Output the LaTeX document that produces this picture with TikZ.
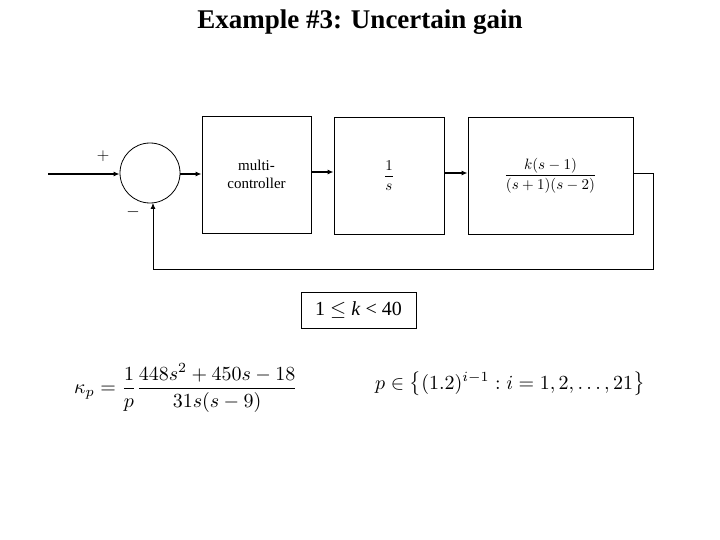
\documentclass[tikz,border=0pt]{standalone}
\usepackage{amsmath}
\usepackage{fontspec}
\setmainfont{Liberation Serif}
\usetikzlibrary{arrows.meta}
\begin{document}
\begin{tikzpicture}[x=1pt,y=-1pt,
  blk/.style={draw,line width=0.8pt,minimum width=#1,minimum height=117pt,inner sep=0pt},
  conn/.style={line width=1.2pt,-{Latex[length=6pt,width=5pt]}},
  fb/.style={line width=0.8pt,-{Latex[length=6pt,width=5pt]}}]
\useasboundingbox (0,0) rectangle (720,540);
\node (title) at (360,22) {\fontsize{27}{30}\selectfont\bfseries Example \#3: Uncertain gain};
\coordinate (in) at (48,174);
\node[circle,draw,line width=0.8pt,minimum size=60pt,inner sep=0pt] (sum) at (150,173) {};
\node (plus) at (103,156) {\fontsize{18}{20}\selectfont $+$};
\node (minus) at (133,212) {\fontsize{18}{20}\selectfont $-$};
\node[blk=109pt] (b1) at (256.5,174.5) {\parbox{80pt}{\centering\fontsize{15}{18}\selectfont multi-\\controller}};
\node[blk=110pt] (b2) at (389,175.5) {};
\node[scale=1.5] (b2t) at (b2.center) {$\dfrac{1}{s}$};
\node[blk=165pt] (b3) at (550.5,175.5) {};
\node[scale=1.5] (b3t) at (b3.center) {$\dfrac{k(s-1)}{(s+1)(s-2)}$};
\coordinate (c1) at (653,173);
\coordinate (c2) at (653,269);
\coordinate (c3) at (153,269);
\draw[conn] (in) -- (sum.west |- in);
\draw[conn] (sum.east |- 0,174) -- (b1.west |- 0,174);
\draw[conn] (b1.east |- 0,172) -- (b2.west |- 0,172);
\draw[conn] (b2.east |- 0,173) -- (b3.west |- 0,173);
\draw[line width=0.8pt] (b3.east |- c1) -- (c1) -- (c2) -- (c3);
\draw[fb] (c3) -- (153,203);
\node[draw,line width=0.8pt,minimum width=115pt,minimum height=36pt] (range) at (358.5,310) {\fontsize{20}{24}\selectfont 1 $\leq$ \textit{k} < 40};
\node[scale=2.0] (kappa) at (186,388) {$\kappa_p=\dfrac{1}{p}\dfrac{448s^2+450s-18}{31s(s-9)}$};
\node[scale=2.0] (pset) at (510,384) {$p\in\bigl\{(1.2)^{i-1}: i=1,2,\ldots,21\bigr\}$};
\end{tikzpicture}
\end{document}
